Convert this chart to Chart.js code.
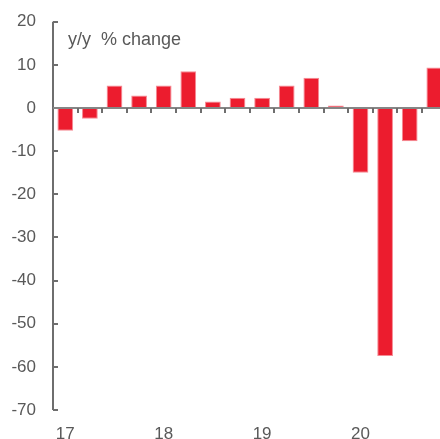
<!DOCTYPE html>
<html>
<head>
<meta charset="utf-8">
<script src="https://cdn.jsdelivr.net/npm/chart.js@4"></script>
<style>
  html, body { margin:0; padding:0; background:#fff; overflow:hidden; }
  #wrap { width:460px; height:439px; }
</style>
</head>
<body>
<div id="wrap"><canvas id="chart" width="460" height="439"></canvas></div>
<script>
// quarterly y/y % change, 2017Q1 .. 2020Q4
const quarters = ['17Q1','17Q2','17Q3','17Q4','18Q1','18Q2','18Q3','18Q4',
                  '19Q1','19Q2','19Q3','19Q4','20Q1','20Q2','20Q3','20Q4'];
const yoyChange = [-5.3,-2.5,5.2,2.9,5.2,8.5,1.5,2.4,2.4,5.2,7.0,0.6,-15.0,-57.5,-7.7,9.4];
const yearLabels = ['17','18','19','20'];
const yTicks = [20,10,0,-10,-20,-30,-40,-50,-60,-70];

const grey = '#595959';

// draws the y axis with inward ticks, the zero line and its quarter ticks
const axesPlugin = {
  id:'axes',
  afterDatasetsDraw(chart){
    const {ctx, chartArea, scales} = chart;
    const x = scales.x, y = scales.y;
    ctx.save();
    ctx.strokeStyle = '#6e6e6e';
    ctx.lineWidth = 2;
    // y axis
    ctx.beginPath();
    ctx.moveTo(chartArea.left, y.getPixelForValue(20));
    ctx.lineTo(chartArea.left, y.getPixelForValue(-70));
    ctx.stroke();
    yTicks.forEach(v=>{
      const py = Math.round(y.getPixelForValue(v));
      ctx.beginPath();
      ctx.moveTo(chartArea.left, py);
      ctx.lineTo(chartArea.left + 5, py);
      ctx.stroke();
    });
    // zero line
    const y0 = y.getPixelForValue(0);
    ctx.strokeStyle = '#858585';
    ctx.beginPath();
    ctx.moveTo(chartArea.left, y0);
    ctx.lineTo(chartArea.right, y0);
    ctx.stroke();
    // ticks between quarters
    ctx.strokeStyle = '#6e6e6e';
    for(let i=1;i<quarters.length;i++){
      const px = Math.round((x.getPixelForValue(i-1) + x.getPixelForValue(i))/2);
      ctx.beginPath();
      ctx.moveTo(px, y0);
      ctx.lineTo(px, y0 + 5);
      ctx.stroke();
    }
    // unit label
    ctx.fillStyle = grey;
    ctx.font = '18px "Liberation Sans", Arial, sans-serif';
    ctx.textBaseline = 'middle';
    ctx.fillText('y/y  % change', 68, 40);
    ctx.restore();
  }
};

new Chart(document.getElementById('chart'), {
  type:'bar',
  data:{
    labels: quarters,
    datasets:[{
      data: yoyChange,
      backgroundColor:'#ec1c2e',
      borderColor:'#f58a94',
      borderWidth:1,
      borderSkipped:false,
      categoryPercentage:1,
      barPercentage:0.64
    }]
  },
  options:{
    responsive:false,
    animation:false,
    layout:{padding:{top:21.7, right:13.4, bottom:0, left:0}},
    plugins:{legend:{display:false}, tooltip:{enabled:false}},
    scales:{
      x:{
        grid:{display:false, drawTicks:false},
        border:{display:false},
        afterFit(s){ s.height = 29; s.paddingLeft = 0; s.paddingRight = 0; },
        ticks:{
          autoSkip:false, maxRotation:0, padding:14,
          color:grey,
          font:{family:'"Liberation Sans", Arial, sans-serif', size:17},
          callback(v, i){
            const q = quarters[i];
            return q.endsWith('Q1') ? yearLabels[yearLabels.indexOf(q.slice(0,2))] : '';
          }
        }
      },
      y:{
        min:-70, max:20,
        grid:{display:false, drawTicks:false},
        border:{display:false},
        afterFit(s){ s.width = 53; s.paddingTop = 0; s.paddingBottom = 0; },
        afterBuildTicks(s){ s.ticks = yTicks.map(v=>({value:v})); },
        ticks:{
          padding:17,
          color:grey,
          font:{family:'"Liberation Sans", Arial, sans-serif', size:17}
        }
      }
    }
  },
  plugins:[axesPlugin]
});
</script>
</body>
</html>
